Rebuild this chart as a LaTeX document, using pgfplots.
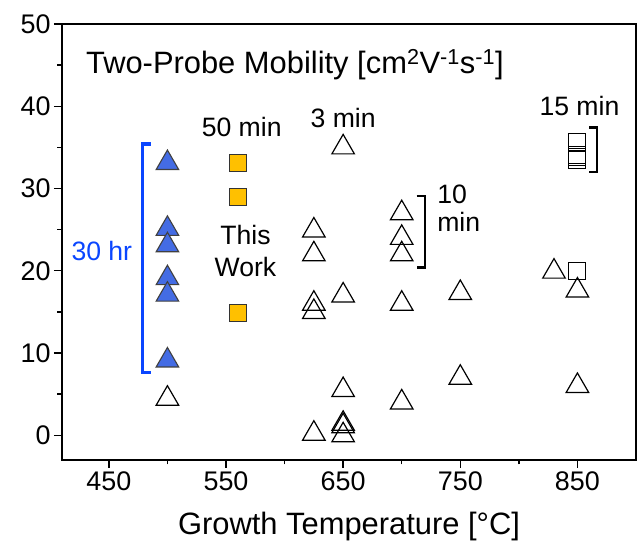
\documentclass[border=0pt]{standalone}
\usepackage{fontspec}
\setmainfont{Liberation Sans}
\usepackage{pgfplots}
\pgfplotsset{compat=1.18}
\definecolor{triblue}{RGB}{68,108,228}
\definecolor{brblue}{RGB}{10,70,255}
\definecolor{sqyellow}{RGB}{255,192,0}
\newcommand{\fA}{\fontsize{26.7}{31.7}\selectfont}
\newcommand{\fT}{\fontsize{31}{36}\selectfont}
\begin{document}
\begin{tikzpicture}
\begin{axis}[
  scale only axis, width=574bp, height=436bp,
  xmin=410, xmax=900, ymin=-3, ymax=50,
  xtick={450,550,650,750,850}, minor xtick={500,600,700,800},
  ytick={0,10,20,30,40,50}, minor ytick={5,15,25,35,45},
  tick pos=left, tick align=outside,
  major tick length=8bp, minor tick length=4.5bp,
  every tick/.style={black, line width=1.4bp},
  axis line style={black, line width=1.6bp},
  ticklabel style={font=\fontsize{27}{32}\selectfont},
  /pgf/number format/assume math mode=true,
  xlabel={Growth Temperature [°C]},
  xlabel style={font=\fT, at={(axis description cs:0.5,0)}, anchor=base, yshift=-74.3bp},
  clip=false,
]
% open triangles (literature)
\addplot[only marks, mark=triangle, mark size=13bp, mark options={draw=black, line width=1.2bp}] coordinates {
(500,4.45)
(625,24.9) (625,22.0) (625,16.0) (625,15.0) (625,0.2)
(650,35.0) (650,17.0) (650,5.5) (650,1.4) (650,1.1) (650,0.0)
(700,27.0) (700,24.0) (700,22.0) (700,16.0) (700,4.0)
(750,17.3) (750,7.0)
(830,19.9)
(850,17.6) (850,6.0)
};
% open squares
\addplot[only marks, mark=square, mark size=8.5bp, mark options={draw=black, line width=1.1bp}] coordinates {
(850,20.0) (850,35.7) (850,34.1) (850,33.8) (850,33.5)
};
% blue filled triangles (30 hr)
\addplot[only marks, mark=triangle*, mark size=13bp, mark options={draw=black!75, fill=triblue, line width=1.1bp}] coordinates {
(500,33.1) (500,25.1) (500,23.1) (500,19.1) (500,17.1) (500,9.1)
};
% yellow squares (this work)
\addplot[only marks, mark=square*, mark size=8.5bp, mark options={draw=black!80, fill=sqyellow, line width=1.1bp}] coordinates {
(560,33.1) (560,29.0) (560,14.9)
};
% brackets
\addplot[brblue, line width=3.2bp, no marks] coordinates {(485.7,35.4) (478.7,35.4) (478.7,7.65) (485.7,7.65)};
\addplot[black, line width=2.8bp, no marks] coordinates {(712.7,29.1) (719.8,29.1) (719.8,20.4) (712.7,20.4)};
\addplot[black, line width=2.8bp, no marks] coordinates {(860,37.4) (866.7,37.4) (866.7,32.0) (860,32.0)};
% texts
\node[anchor=base west, inner sep=0, font=\fT] at (axis cs:430.4,44.0) {Two-Probe Mobility [cm\textsuperscript{2}V\textsuperscript{-1}s\textsuperscript{-1}]};
\node[anchor=base, inner sep=0, font=\fA] at (axis cs:650,37.45) {3 min};
\node[anchor=base, inner sep=0, font=\fA] at (axis cs:563.4,36.3) {50 min};
\node[anchor=base, inner sep=0, font=\fA] at (axis cs:851.7,38.9) {15 min};
\node[anchor=center, inner sep=0, align=center, font=\fA] at (axis cs:566.6,22.42) {This\\Work};
\node[anchor=west, inner sep=0, align=left, font=\fontsize{26.7}{28.4}\selectfont] at (axis cs:730.2,27.6) {10\\min};
\node[anchor=center, inner sep=0, font=\fA, text=brblue] at (axis cs:444,22.4) {30 hr};
\end{axis}
\path (current axis.south west) ++(-62bp,-81bp) coordinate (bl);
\path (current axis.north east) ++(1bp,24bp) coordinate (tr);
\pgfresetboundingbox
\useasboundingbox (bl) rectangle (tr);
\end{tikzpicture}
\end{document}
